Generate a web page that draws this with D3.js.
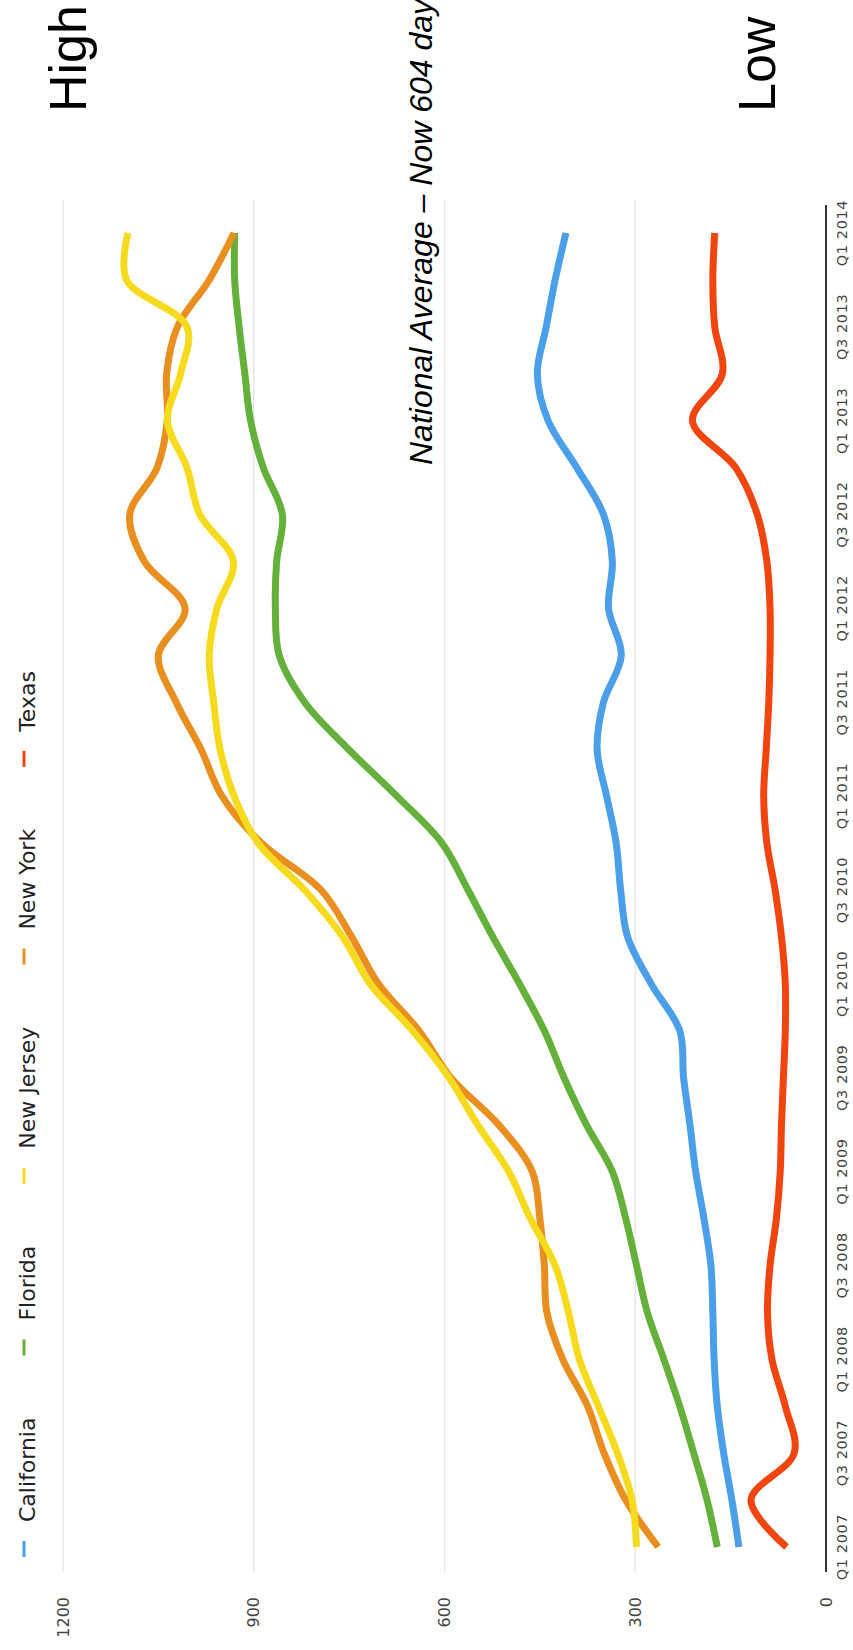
<!DOCTYPE html>
<html>
<head>
<meta charset="utf-8">
<script src="https://cdn.jsdelivr.net/npm/d3@7"></script>
<style>
  body { margin: 0; background: #fff; }
  svg { display: block; }
</style>
</head>
<body>
<svg id="chart" width="853" height="1650"></svg>
<script>
// Days to complete a foreclosure, quarterly from Q1 2007 to Q1 2014
const seriesNames = ["California", "Florida", "New Jersey", "New York", "Texas"];
const seriesColors = ["#4b9fe9", "#63b13a", "#f6da1e", "#e88f1f", "#f1450f"];

const quarterLabels = ["Q1 2007", "Q3 2007", "Q1 2008", "Q3 2008", "Q1 2009", "Q3 2009",
  "Q1 2010", "Q3 2010", "Q1 2011", "Q3 2011", "Q1 2012", "Q3 2012", "Q1 2013", "Q3 2013", "Q1 2014"];

const valueTicks = [0, 300, 600, 900, 1200];

const california = [137, 148, 161, 171, 176, 178, 181, 192, 205, 214, 224, 230, 275, 312, 323,
  330, 345, 360, 350, 322, 342, 336, 350, 392, 437, 454, 440, 426, 409];
const florida = [171, 187, 208, 230, 255, 281, 298, 315, 336, 377, 412, 443, 482, 524, 563,
  604, 675, 751, 820, 860, 866, 864, 855, 885, 905, 914, 923, 930, 930];
const newJersey = [298, 305, 328, 358, 388, 405, 426, 465, 499, 548, 593, 650, 717, 760, 820,
  893, 931, 953, 963, 970, 958, 932, 985, 1005, 1036, 1015, 1005, 1100, 1098];
const newYork = [264, 315, 349, 375, 414, 439, 443, 450, 462, 515, 590, 640, 704, 746, 794,
  888, 950, 983, 1022, 1050, 1008, 1072, 1095, 1052, 1036, 1037, 1020, 970, 931];
const texas = [62, 118, 50, 64, 85, 92, 88, 78, 72, 70, 67, 64, 64, 70, 80,
  93, 98, 94, 90, 88, 88, 93, 108, 142, 210, 163, 175, 178, 175];

const seriesValues = [california, florida, newJersey, newYork, texas];

// The whole chart is laid out sideways: a 1650 x 853 plot turned a quarter turn
const W = 1650;
const svg = d3.select("#chart");
const g = svg.append("g").attr("transform", `translate(0,${W}) rotate(-90)`);

const x = d3.scaleLinear().domain([0, 28]).range([103, 1417]);
const y = d3.scaleLinear().domain([0, 1200]).range([826, 63]);

const sans = "'DejaVu Sans', sans-serif";
const arial = "'Liberation Sans', Arial, sans-serif";

// Grid lines
g.append("g").selectAll("line")
  .data(valueTicks.filter(d => d > 0))
  .join("line")
  .attr("x1", 78).attr("x2", 1450)
  .attr("y1", d => y(d)).attr("y2", d => y(d))
  .attr("stroke", "#e6e6e6").attr("stroke-width", 1.5);

// Baseline axis
g.append("line")
  .attr("x1", 78).attr("x2", 1445)
  .attr("y1", y(0)).attr("y2", y(0))
  .attr("stroke", "#333").attr("stroke-width", 2);

// Value labels
g.append("g").selectAll("text")
  .data(valueTicks)
  .join("text")
  .attr("x", 53).attr("y", d => y(d)).attr("dy", "0.35em")
  .attr("text-anchor", "end")
  .attr("font-family", sans).attr("font-size", 16)
  .attr("fill", "#444")
  .text(d => d);

// Quarter labels
g.append("g").selectAll("text")
  .data(quarterLabels)
  .join("text")
  .attr("x", (d, i) => x(i * 2)).attr("y", 847)
  .attr("text-anchor", "middle")
  .attr("font-family", sans).attr("font-size", 14.5)
  .attr("letter-spacing", 0.6)
  .attr("fill", "#444")
  .text(d => d);

// Lines
const line = d3.line()
  .x((d, i) => x(i))
  .y(d => y(d))
  .curve(d3.curveCatmullRom.alpha(0.5));

const drawOrder = [1, 0, 3, 2, 4];
g.append("g").selectAll("path")
  .data(drawOrder)
  .join("path")
  .attr("d", k => line(seriesValues[k]))
  .attr("fill", "none")
  .attr("stroke", k => seriesColors[k])
  .attr("stroke-width", 7);

// Legend
const legend = g.append("g");
let pos = 101;
seriesNames.forEach((name, k) => {
  legend.append("line")
    .attr("x1", pos - 8).attr("x2", pos + 8)
    .attr("y1", 24).attr("y2", 24)
    .attr("stroke", seriesColors[k]).attr("stroke-width", 3);
  const t = legend.append("text")
    .attr("x", pos + 27).attr("y", 35)
    .attr("font-family", sans).attr("font-size", 22)
    .attr("fill", "#222")
    .text(name);
  pos = pos + 27 + t.node().getComputedTextLength() + 70;
});

// Annotations
g.append("text")
  .attr("x", 1538).attr("y", 86)
  .attr("font-family", arial).attr("font-size", 52)
  .attr("fill", "#000")
  .text("High");

g.append("text")
  .attr("x", 1538).attr("y", 775)
  .attr("font-family", arial).attr("font-size", 52)
  .attr("fill", "#000")
  .text("Low");

g.append("text")
  .attr("x", 1185).attr("y", 432)
  .attr("font-family", arial).attr("font-size", 32)
  .attr("font-style", "italic")
  .attr("fill", "#000")
  .text("National Average – Now 604 days");
</script>
</body>
</html>
